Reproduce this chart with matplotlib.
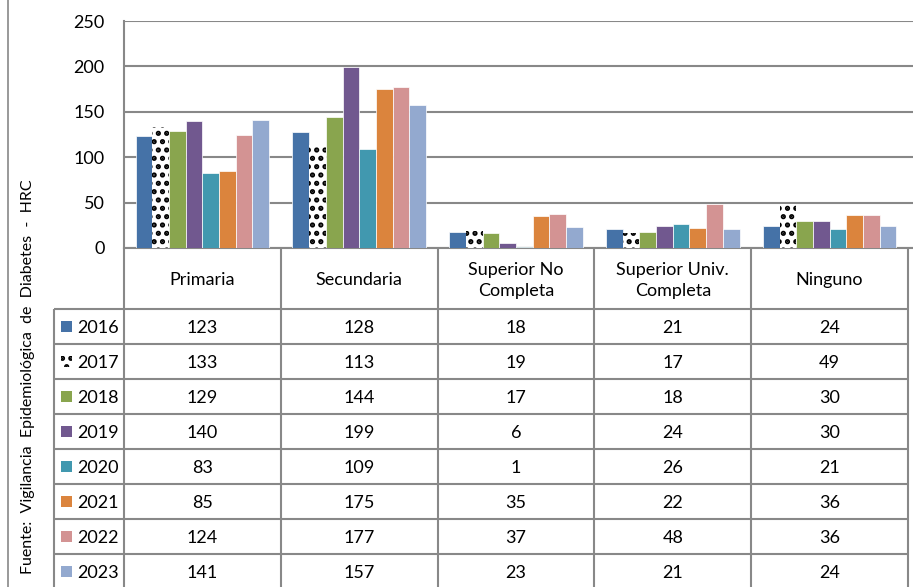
import matplotlib
matplotlib.use('Agg')
import matplotlib.pyplot as plt
from matplotlib.patches import Rectangle
from matplotlib.lines import Line2D
import numpy as np

plt.rcParams['font.family'] = ['Lato', 'DejaVu Sans']
plt.rcParams['hatch.linewidth'] = 2.5

categories = ['Primaria', 'Secundaria', 'Superior No\nCompleta', 'Superior Univ.\nCompleta', 'Ninguno']
years = ['2016', '2017', '2018', '2019', '2020', '2021', '2022', '2023']
v2016 = [123, 128, 18, 21, 24]
v2017 = [133, 113, 19, 17, 49]
v2018 = [129, 144, 17, 18, 30]
v2019 = [140, 199, 6, 24, 30]
v2020 = [83, 109, 1, 26, 21]
v2021 = [85, 175, 35, 22, 36]
v2022 = [124, 177, 37, 48, 36]
v2023 = [141, 157, 23, 21, 24]
values = [v2016, v2017, v2018, v2019, v2020, v2021, v2022, v2023]

colors = ['#4572A7', 'white', '#89A54E', '#71588F', '#4198AF', '#DB843D', '#D39393', '#93A9CF']
hatches = [None, '..', None, None, None, None, None, None]
line_col = '#888888'

W, H = 913, 587
fig = plt.figure(figsize=(W / 100, H / 100), dpi=100)

# chart area
ax = fig.add_axes([124 / W, (H - 248) / H, (W - 124) / W, (248 - 21) / H])
x = np.arange(len(categories))
bw = 0.1065
for j, vals in enumerate(values):
    pos = x + (j - 3.5) * bw
    if hatches[j]:
        ax.bar(pos, vals, bw, color=colors[j], edgecolor='black', linewidth=0,
               hatch=hatches[j], zorder=3)
    else:
        ax.bar(pos, vals, bw, color=colors[j], edgecolor='white', linewidth=0.5, zorder=3)

ax.set_xlim(-0.5, 4.5 + 5 / 156.8)
ax.set_ylim(0, 250)
ax.set_yticks(range(0, 251, 50))
ax.yaxis.grid(True, color=line_col, linewidth=1.5, zorder=0)
ax.set_xticks([])
ax.tick_params(axis='y', length=0, labelsize=13, pad=14, colors='black')
for s in ['top', 'right']:
    ax.spines[s].set_visible(False)
ax.spines['left'].set_color(line_col)
ax.spines['bottom'].set_color(line_col)
ax.spines['left'].set_linewidth(1.5)
ax.spines['bottom'].set_linewidth(1.5)

# data table
tx = fig.add_axes([54 / W, 0, (908 - 54) / W, (H - 248) / H])
left = -0.5 - 70 / 156.8
head = -61 / 35
tx.set_xlim(left, 4.5)
tx.set_ylim(278 / 35, head)
tx.axis('off')

tx.hlines(np.arange(0, 9), left, 4.5, color=line_col, linewidth=1.5, clip_on=False)
tx.vlines([left], 0, 8, color=line_col, linewidth=1.5, clip_on=False)
tx.vlines(np.arange(-0.5, 5, 1.0), head, 8, color=line_col, linewidth=1.5, clip_on=False)

for i, c in enumerate(categories):
    tx.text(i, head / 2 + 0.05, c, ha='center', va='center', fontsize=13, linespacing=1.4)

for r, (yr, vals) in enumerate(zip(years, values)):
    for i, v in enumerate(vals):
        tx.text(i, r + 0.55, str(v), ha='center', va='center', fontsize=13)
    sw = Rectangle((left + 7 / 156.8, r + 0.5 - 0.16), 11 / 156.8, 0.32,
                   facecolor=colors[r], edgecolor='black' if hatches[r] else 'none',
                   linewidth=0, hatch=hatches[r], clip_on=False)
    tx.add_patch(sw)
    tx.text(left + 23 / 156.8, r + 0.55, yr, ha='left', va='center', fontsize=13)

# source label and left frame line
fig.text(28 / W, (H - 377) / H, 'Fuente:  Vigilancia  Epidemiológica  de  Diabetes  -  HRC',
         rotation=90, ha='center', va='center', fontsize=11.5)
fig.add_artist(Line2D([7.5 / W, 7.5 / W], [0, 1], color=line_col, linewidth=1.2))

fig.savefig('out.png', dpi=100)
